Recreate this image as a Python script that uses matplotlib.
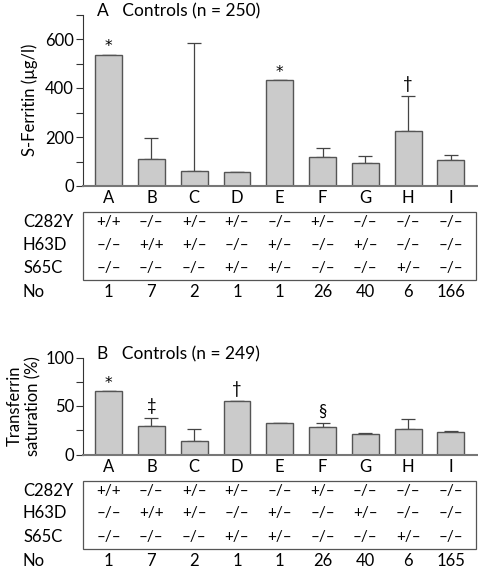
import matplotlib
matplotlib.use("Agg")
import matplotlib.pyplot as plt
from matplotlib.patches import Rectangle
from matplotlib.transforms import blended_transform_factory
from matplotlib.ticker import MultipleLocator

plt.rcParams['font.family'] = ['Lato', 'DejaVu Sans']

# ---------------- data ----------------
groups = ["A", "B", "C", "D", "E", "F", "G", "H", "I"]
row_names = ["C282Y", "H63D", "S65C"]
c282y = ["+/+", "–/–", "+/–", "+/–", "–/–", "+/–", "–/–", "–/–", "–/–"]
h63d = ["–/–", "+/+", "+/–", "–/–", "+/–", "–/–", "+/–", "–/–", "–/–"]
s65c = ["–/–", "–/–", "–/–", "+/–", "+/–", "–/–", "–/–", "+/–", "–/–"]

ferritin_mean = [535, 109, 61, 56, 431, 117, 95, 224, 105]
ferritin_err = [0, 86, 521, 0, 0, 37, 27, 145, 20]
ferritin_n = ["1", "7", "2", "1", "1", "26", "40", "6", "166"]
ferritin_marks = {0: "*", 4: "*", 7: "†"}

tsat_mean = [65, 29, 14, 55.5, 32, 28, 21.5, 26, 23]
tsat_err = [0, 9, 12, 0, 0, 4, 0.8, 11, 0.8]
tsat_n = ["1", "7", "2", "1", "1", "26", "40", "6", "165"]
tsat_marks = {0: "*", 1: "‡", 3: "†", 5: "§"}

W, H = 478, 572
fig = plt.figure(figsize=(W / 100, H / 100), dpi=100)


def rect(l, t, r, b):
    return [l / W, 1 - b / H, (r - l) / W, (b - t) / H]


BAR_FC = "#cbcbcb"
BAR_EC = "#555555"
FS = 12


def panel(top, bottom, means, errs, ymax, major, minor, title, ylabel, marks,
          ncounts, ylabel_x):
    ax = fig.add_axes(rect(83, top, 476.5, bottom))
    x = list(range(len(groups)))
    ax.bar(x, means, width=0.63, color=BAR_FC, edgecolor=BAR_EC, linewidth=1.0,
           zorder=2)
    lower = [0] * len(errs)
    ax.errorbar(x, means, yerr=[lower, errs], fmt="none", ecolor="#444444",
                elinewidth=0.9, capsize=5, capthick=0.9, zorder=1)
    ax.set_xlim(-0.6, 8.6)
    ax.set_ylim(0, ymax)
    ax.yaxis.set_major_locator(MultipleLocator(major))
    ax.yaxis.set_minor_locator(MultipleLocator(minor))
    ax.tick_params(axis="y", which="both", direction="out", length=5, width=0.8,
                   color="#333333", labelsize=FS, pad=1.5)
    ax.set_xticks(x)
    ax.set_xticklabels(groups, fontsize=FS)
    ax.tick_params(axis="x", length=0, pad=3)
    for s in ["top", "right"]:
        ax.spines[s].set_visible(False)
    ax.spines["left"].set_color("#333333")
    ax.spines["left"].set_linewidth(0.8)
    ax.spines["bottom"].set_color("#777777")
    ax.spines["bottom"].set_linewidth(1.5)
    ax.set_facecolor("none")
    fig.text(97 / W, 1 - (top - 3.5) / H, title, fontsize=FS + 0.5,
             ha="left", va="center")
    fig.text(ylabel_x / W, 1 - (top + bottom) / 2 / H, ylabel, rotation=90,
             ha="center", va="center", fontsize=FS, linespacing=1.25)
    for i, m in marks.items():
        if m == "*":
            ax.annotate(m, (i, means[i] + errs[i]), xytext=(0, 8),
                        textcoords="offset pixels", ha="center", va="center",
                        fontsize=FS - 1, family="DejaVu Sans")
        else:
            ax.annotate(m, (i, means[i] + errs[i]), xytext=(0, 12),
                        textcoords="offset pixels", ha="center", va="center",
                        fontsize=FS)

    # table
    tab = fig.add_axes(rect(83, bottom, 476.5, bottom + 114))
    tab.set_xlim(-0.6, 8.6)
    tab.set_ylim(114, 0)
    tab.axis("off")
    tab.add_patch(Rectangle((-0.6, 26), 9.18, 68, fill=False,
                            edgecolor="#555555", linewidth=0.9, clip_on=False))
    rows = [c282y, h63d, s65c]
    ys = [36, 59, 82]
    tr = blended_transform_factory(fig.transFigure, tab.transData)
    for name, vals, yy in zip(row_names, rows, ys):
        tab.text(23 / W, yy, name, transform=tr, ha="left", va="center",
                 fontsize=FS)
        for i, v in enumerate(vals):
            tab.text(i, yy, v, ha="center", va="center", fontsize=FS - 1)
    tab.text(23 / W, 106, "No", transform=tr, ha="left", va="center",
             fontsize=FS)
    for i, v in enumerate(ncounts):
        tab.text(i, 106, v, ha="center", va="center", fontsize=FS)
    return ax


panel(14.5, 186, ferritin_mean, ferritin_err, 700, 200, 100,
      "A   Controls (n = 250)", "S-Ferritin (µg/l)", ferritin_marks,
      ferritin_n, 30)
panel(357.5, 454.5, tsat_mean, tsat_err, 100, 50, 25,
      "B   Controls (n = 249)", "Transferrin\nsaturation (%)", tsat_marks,
      tsat_n, 24)

fig.savefig("out.png", dpi=100)
